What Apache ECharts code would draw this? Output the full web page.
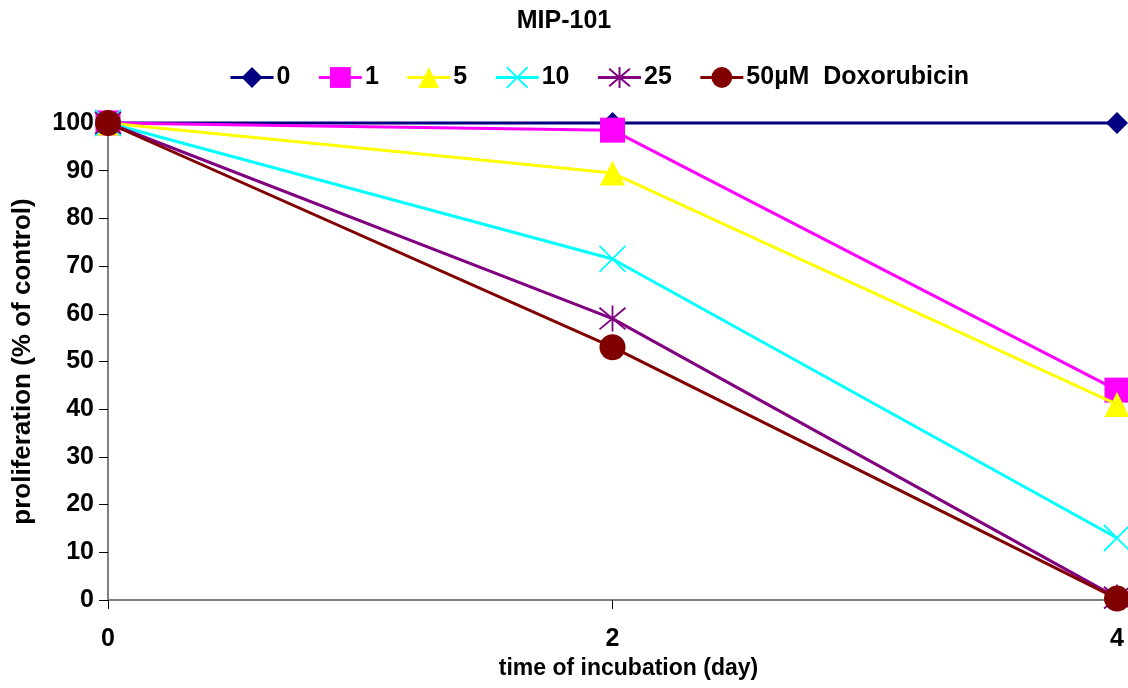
<!DOCTYPE html>
<html><head><meta charset="utf-8">
<script src="https://cdn.jsdelivr.net/npm/echarts@6/dist/echarts.min.js"></script>
<style>html,body{margin:0;padding:0;background:#fff}#c{width:1128px;height:688px}</style>
</head><body><div id="c"></div>
<script>
const days = [0, 2, 4];
const seriesNames = ['0', '1', '5', '10', '25', '50µM  Doxorubicin'];
const s0 = [100, 100, 100];
const s1 = [100, 98.5, 44];
const s5 = [100, 89.5, 41];
const s10 = [100, 71.5, 13];
const s25 = [100, 59, 0.5];
const s50 = [100, 53, 0.3];
const colors = ['#000080', '#FF00FF', '#FFFF00', '#00FFFF', '#800080', '#800000'];

const xPath = 'path://M0,0L10,10M10,0L0,10';
const starPath = 'path://M0,0L10,10M10,0L0,10M5,-1L5,11';
const symbols = ['diamond', 'rect', 'triangle', xPath, starPath, 'circle'];
const sizes = [22, 25, 25, 26, 26, 26];
const allData = [s0, s1, s5, s10, s25, s50];
const font = 'Liberation Sans, Arial, sans-serif';

const series = allData.map((vals, i) => {
  const stroked = i === 3 || i === 4;
  return {
    name: seriesNames[i],
    type: 'line',
    data: vals.map((v, j) => [days[j], v]),
    symbol: symbols[i],
    symbolSize: sizes[i],
    showAllSymbol: true,
    clip: false,
    z: 2 + i,
    lineStyle: { color: colors[i], width: 3 },
    itemStyle: stroked
      ? { color: 'rgba(0,0,0,0)', borderColor: colors[i], borderWidth: 1.8 }
      : { color: colors[i], borderWidth: 0 },
    emphasis: { disabled: true },
    animation: false
  };
});

const chart = echarts.init(document.getElementById('c'));
chart.setOption({
  animation: false,
  title: {
    text: 'MIP-101', left: 'center', top: 4,
    textStyle: { fontFamily: font, fontWeight: 'bold', fontSize: 25, color: '#000' }
  },
  legend: {
    top: 60, left: 224,
    itemWidth: 43, itemHeight: 26, itemGap: 27,
    lineStyle: { width: 3 },
    textStyle: { fontFamily: font, fontWeight: 'bold', fontSize: 25, color: '#000', padding: [0, 0, 0, -2] },
    data: seriesNames
  },
  grid: { left: 108, right: 11, top: 123, bottom: 88, containLabel: false },
  xAxis: {
    type: 'value', min: 0, max: 4, interval: 2,
    name: 'time of incubation (day)', nameLocation: 'middle', nameGap: 51,
    nameTextStyle: { fontFamily: font, fontWeight: 'bold', fontSize: 23, color: '#000', padding: [0, 0, 0, 32] },
    axisLine: { lineStyle: { color: '#808080', width: 2 } },
    axisTick: { show: true, length: 9, lineStyle: { color: '#000', width: 1 } },
    axisLabel: { fontFamily: font, fontWeight: 'bold', fontSize: 25, color: '#000', margin: 27 },
    splitLine: { show: false }
  },
  yAxis: {
    type: 'value', min: 0, max: 100, interval: 10,
    name: 'proliferation (% of control)', nameLocation: 'middle', nameGap: 72,
    nameTextStyle: { fontFamily: font, fontWeight: 'bold', fontSize: 26, color: '#000' },
    axisLine: { show: true, lineStyle: { color: '#808080', width: 2 } },
    axisTick: { show: true, length: 9, lineStyle: { color: '#000', width: 1 } },
    axisLabel: { fontFamily: font, fontWeight: 'bold', fontSize: 25, color: '#000', margin: 14 },
    splitLine: { show: false }
  },
  series: series
});
</script></body></html>
